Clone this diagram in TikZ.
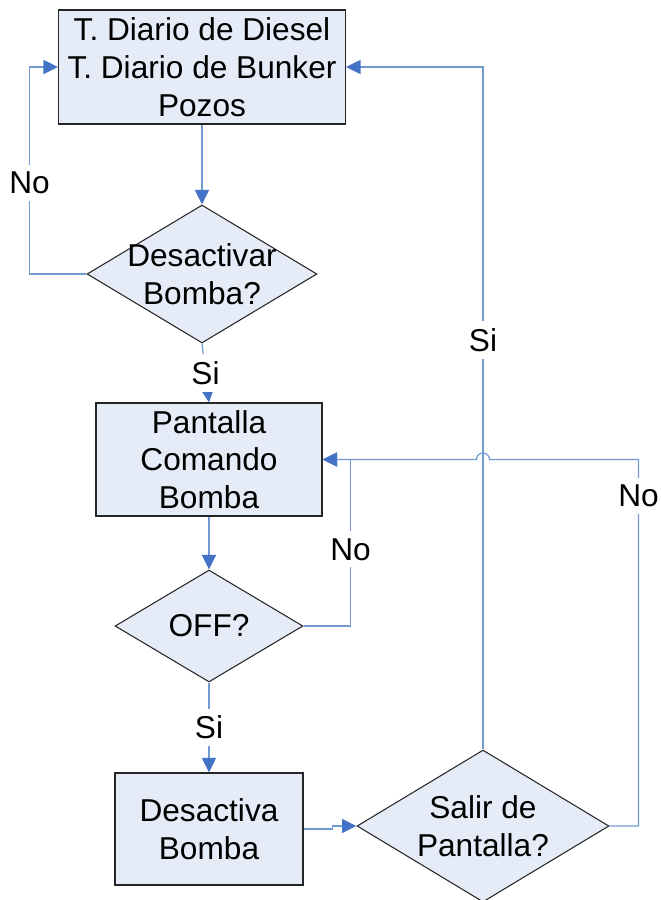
\documentclass[tikz,border=0pt]{standalone}
\usepackage{fontspec}
\setmainfont{Liberation Sans}
\usetikzlibrary{shapes.geometric, arrows.meta}

\definecolor{boxFill}{RGB}{230,236,247}
\definecolor{lineBlue}{RGB}{115,153,210}
\definecolor{tipBlue}{RGB}{68,114,196}

\begin{document}
\begin{tikzpicture}[
	x=0.02cm, y=-0.02cm,
	every node/.style={font=\fontsize{18}{21.5}\selectfont},
	block/.style={draw=black!85, fill=boxFill, line width=0.7pt, align=center, inner sep=0},
	decision/.style={diamond, draw=black!85, fill=boxFill, line width=0.6pt, inner sep=0},
	arrow/.style={lineBlue, line width=0.7pt, -{Triangle[length=0.29cm, width=0.28cm, color=tipBlue]}},
	tag/.style={fill=white, text=black, inner xsep=1pt, inner ysep=4pt}
]
\useasboundingbox (0, 0) rectangle (661, 900);

% Tanques y pozos
\node [block, minimum width=5.74cm, minimum height=2.28cm] (pozos) at (202, 67)
	{T. Diario de Diesel\\T. Diario de Bunker\\Pozos};
\node [decision, minimum width=4.6cm, minimum height=2.76cm,
	label={[align=center]center:Desactivar\\Bomba?}] (desact) at (202, 274) {};

% Pantalla de comando
\node [block, minimum width=4.52cm, minimum height=2.26cm] (pantalla) at (209, 459.5)
	{Pantalla\\Comando\\Bomba};
\node [decision, minimum width=3.76cm, minimum height=2.24cm,
	label={center:OFF?}] (off) at (209, 626) {};

% Desactivar y salir
\node [block, minimum width=3.76cm, minimum height=2.24cm] (desactiva) at (209, 829)
	{Desactiva\\Bomba};
\node [decision, minimum width=5.04cm, minimum height=3.04cm,
	label={[align=center]center:Salir de\\Pantalla?}] (salir) at (483, 826) {};

\draw [arrow] (pozos.south) -- (desact.north);
\draw [arrow] (desact.west) -- ++(-57, 0) |- (pozos.west) node[tag, pos=0.22] {No};
\draw [arrow] (desact.south) -- (pantalla.north) node[tag, midway] {Si};

\draw [arrow] (pantalla.south) -- (off.north);
\draw [arrow] (off.east) -- ++(47, 0) |- (pantalla.east) node[tag, pos=0.23] {No};
\draw [arrow] (off.south) -- (desactiva.north) node[tag, midway] {Si};

\draw [arrow] (desactiva.east) -- ++(29, 0) |- (salir.west);
\draw [arrow] (salir.north) |- (pozos.east) node[tag, pos=0.3] {Si};

% No: vuelve a la pantalla, saltando la linea del Si
\coordinate (hop) at (salir.north |- pantalla.east);
\draw [arrow] (salir.east) -- ++(29, 0) |- ([xshift=0.13cm]hop) node[tag, pos=0.45] {No}
	arc[start angle=0, end angle=180, radius=0.13cm] -- (pantalla.east);
\end{tikzpicture}
\end{document}
